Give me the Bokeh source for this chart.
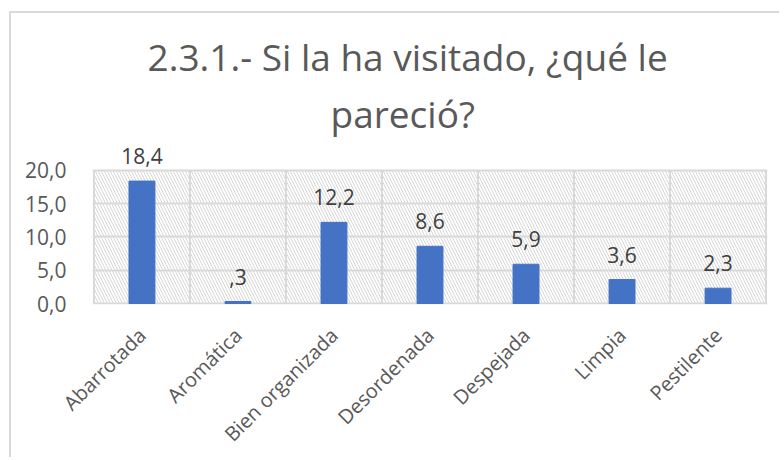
import math
from bokeh.plotting import figure
from bokeh.models import (ColumnDataSource, FixedTicker, LabelSet, BoxAnnotation, Title)
from bokeh.core.properties import value
from bokeh.embed import file_html
from bokeh.resources import INLINE

categories = ["Abarrotada", "Aromática", "Bien organizada", "Desordenada",
              "Despejada", "Limpia", "Pestilente"]
values = [18.4, 0.3, 12.2, 8.6, 5.9, 3.6, 2.3]
y_ticks = [0, 5, 10, 15, 20]
y_tick_labels = ["0,0", "5,0", "10,0", "15,0", "20,0"]
title_lines = ["2.3.1.- Si la ha visitado, ¿qué le", "pareció?"]


def fmt(v):
    s = f"{v:.1f}".replace(".", ",")
    if s.startswith("0,"):
        s = s[1:]
    return s


n = len(categories)
xs = [i + 0.5 for i in range(n)]
bounds = list(range(n + 1))
ymax = y_ticks[-1]
src = ColumnDataSource(dict(x=xs, top=values, label=[fmt(v) for v in values]))

FONT = "Open Sans"
GRID = "#d9d9d9"
TXT = "#595959"

p = figure(width=770, height=446, x_range=(-0.015, n + 0.015), y_range=(-0.15, 24.5),
           output_backend="svg", toolbar_location=None,
           min_border_left=81, min_border_right=14, min_border_top=127,
           min_border_bottom=150)
p.styles = {"margin-left": "9px", "margin-top": "11px",
            "border-left": "2px solid #d9d9d9", "border-top": "2px solid #d9d9d9"}
p.outline_line_color = None

# title: add second line first (closest to frame)
for txt, so, off in ((title_lines[1], 4, 238), (title_lines[0], 4, 55)):
    p.add_layout(Title(text=txt, align="left", text_font=FONT, text_font_size="37px",
                       text_color=TXT, text_font_style="normal", standoff=so,
                       offset=off), "above")

bg = BoxAnnotation(left=0, right=n, bottom=0, top=ymax, fill_color="white",
                   fill_alpha=1.0, line_color=None,
                   hatch_pattern="\\", hatch_color="#d6d6d6", hatch_scale=6,
                   hatch_weight=1, level="image")
p.add_layout(bg)

# grid lines
p.xgrid.visible = False
p.ygrid.ticker = FixedTicker(ticks=y_ticks)
p.ygrid.grid_line_color = GRID
p.ygrid.grid_line_width = 2
p.segment(x0=bounds, y0=[0] * len(bounds), x1=bounds, y1=[ymax] * len(bounds),
          line_color=GRID, line_width=2, level="underlay")

p.vbar(x="x", top="top", width=0.27, bottom=0, source=src, color="#4472c4")

labels = LabelSet(x="x", y="top", text="label", source=src, text_align="center",
                  text_baseline="alphabetic", y_offset=17, text_font=value(FONT),
                  text_font_size="21px", text_color="#404040")
p.add_layout(labels)

# axes
p.xaxis.ticker = FixedTicker(ticks=xs)
p.xaxis.major_label_overrides = {x: c for x, c in zip(xs, categories)}
p.xaxis.major_label_orientation = math.pi / 4
p.yaxis.ticker = FixedTicker(ticks=y_ticks)
p.yaxis.major_label_overrides = {t_: l for t_, l in zip(y_ticks, y_tick_labels)}
for ax in (p.xaxis[0], p.yaxis[0]):
    ax.axis_line_color = None
    ax.major_tick_line_color = None
    ax.minor_tick_line_color = None
    ax.major_label_text_font = FONT
    ax.major_label_text_color = TXT
p.xaxis.major_label_text_font_size = "20px"
p.yaxis.major_label_text_font_size = "21px"
p.xaxis.major_label_standoff = 21
p.yaxis.major_label_standoff = 20

open("out.html", "w").write(file_html(p, INLINE))
